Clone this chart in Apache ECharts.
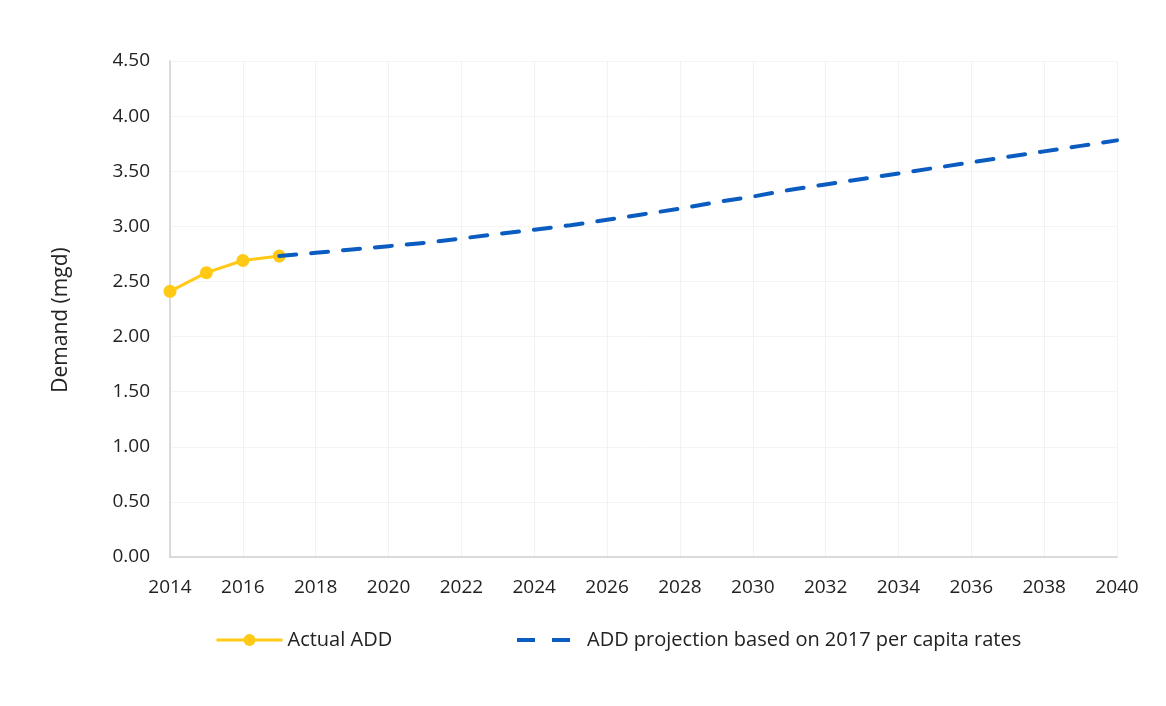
<!DOCTYPE html>
<html>
<head>
<meta charset="utf-8">
<script src="https://cdn.jsdelivr.net/npm/echarts@6/dist/echarts.min.js"></script>
<style>
html,body{margin:0;padding:0;background:#fff;}
#chart{width:1166px;height:706px;}
</style>
</head>
<body>
<div id="chart"></div>
<script>
const actualYears = [2014, 2015, 2016, 2017];
const actualValues = [2.41, 2.58, 2.69, 2.73];
const projYears = [2017, 2018, 2019, 2020, 2021, 2022, 2023, 2024, 2025, 2026, 2027, 2028, 2029, 2030, 2031, 2032, 2033, 2034, 2035, 2036, 2037, 2038, 2039, 2040];
const projValues = [2.73, 2.76, 2.79, 2.82, 2.85, 2.89, 2.93, 2.97, 3.01, 3.06, 3.11, 3.16, 3.22, 3.27, 3.33, 3.38, 3.43, 3.48, 3.53, 3.58, 3.63, 3.68, 3.73, 3.78];
const seriesNames = ['Actual ADD', 'ADD projection based on 2017 per capita rates'];
const yAxisTitle = 'Demand (mgd)';

const FONT = '"Open Sans", "Liberation Sans", sans-serif';
const chart = echarts.init(document.getElementById('chart'), null, {renderer: 'canvas'});
chart.setOption({
  animation: false,
  backgroundColor: '#fff',
  textStyle: {fontFamily: FONT},
  grid: {left: 170, right: 49, top: 61, bottom: 149, containLabel: false},
  legend: [
    {
      data: [{name: seriesNames[0], lineStyle: {width: 3}}], left: 210, top: 625, itemWidth: 66, itemHeight: 15,
      textStyle: {fontFamily: FONT, fontSize: 20, color: '#222', padding: [0,0,0,0]}
    },
    {
      data: [{name: seriesNames[1], itemStyle: {opacity: 0}, lineStyle: {width: 4, type: [18, 17], cap: 'butt'}}], left: 510, top: 625, itemWidth: 53, itemHeight: 15,
      textStyle: {fontFamily: FONT, fontSize: 20, color: '#222', padding: [0,0,0,12]}
    }
  ],
  xAxis: {
    type: 'value', min: 2014, max: 2040, interval: 2,
    axisLine: {show: true, lineStyle: {color: '#d0d0d0', width: 1.5}},
    axisTick: {show: false},
    axisLabel: {formatter: v => String(v), fontFamily: FONT, fontSize: 19, color: '#222', margin: 21},
    splitLine: {show: true, lineStyle: {color: '#f2f2f2', width: 1}}
  },
  yAxis: {
    type: 'value', min: 0, max: 4.5, interval: 0.5,
    name: yAxisTitle, nameLocation: 'middle', nameGap: 98, nameRotate: 90,
    nameTextStyle: {fontFamily: FONT, fontSize: 21, color: '#222', padding: [0, 22, 0, 0]},
    axisLine: {show: true, lineStyle: {color: '#d0d0d0', width: 1.5}},
    axisTick: {show: false},
    axisLabel: {formatter: v => v.toFixed(2), fontFamily: FONT, fontSize: 19, color: '#222', margin: 20},
    splitLine: {show: true, lineStyle: {color: '#f4f4f4', width: 1}}
  },
  series: [
    {
      name: seriesNames[0], type: 'line',
      data: actualYears.map((y, i) => [y, actualValues[i]]),
      symbol: 'circle', symbolSize: 13, showSymbol: true,
      lineStyle: {color: '#FFC915', width: 3},
      itemStyle: {color: '#FFC915'},
      z: 2
    },
    {
      name: seriesNames[1], type: 'line',
      data: projYears.map((y, i) => [y, projValues[i]]),
      symbol: 'none', smooth: false,
      lineStyle: {color: '#0B5CC0', width: 4, type: [17, 15], cap: 'round'},
      itemStyle: {color: '#0B5CC0'},
      z: 3
    }
  ]
});
</script>
</body>
</html>
